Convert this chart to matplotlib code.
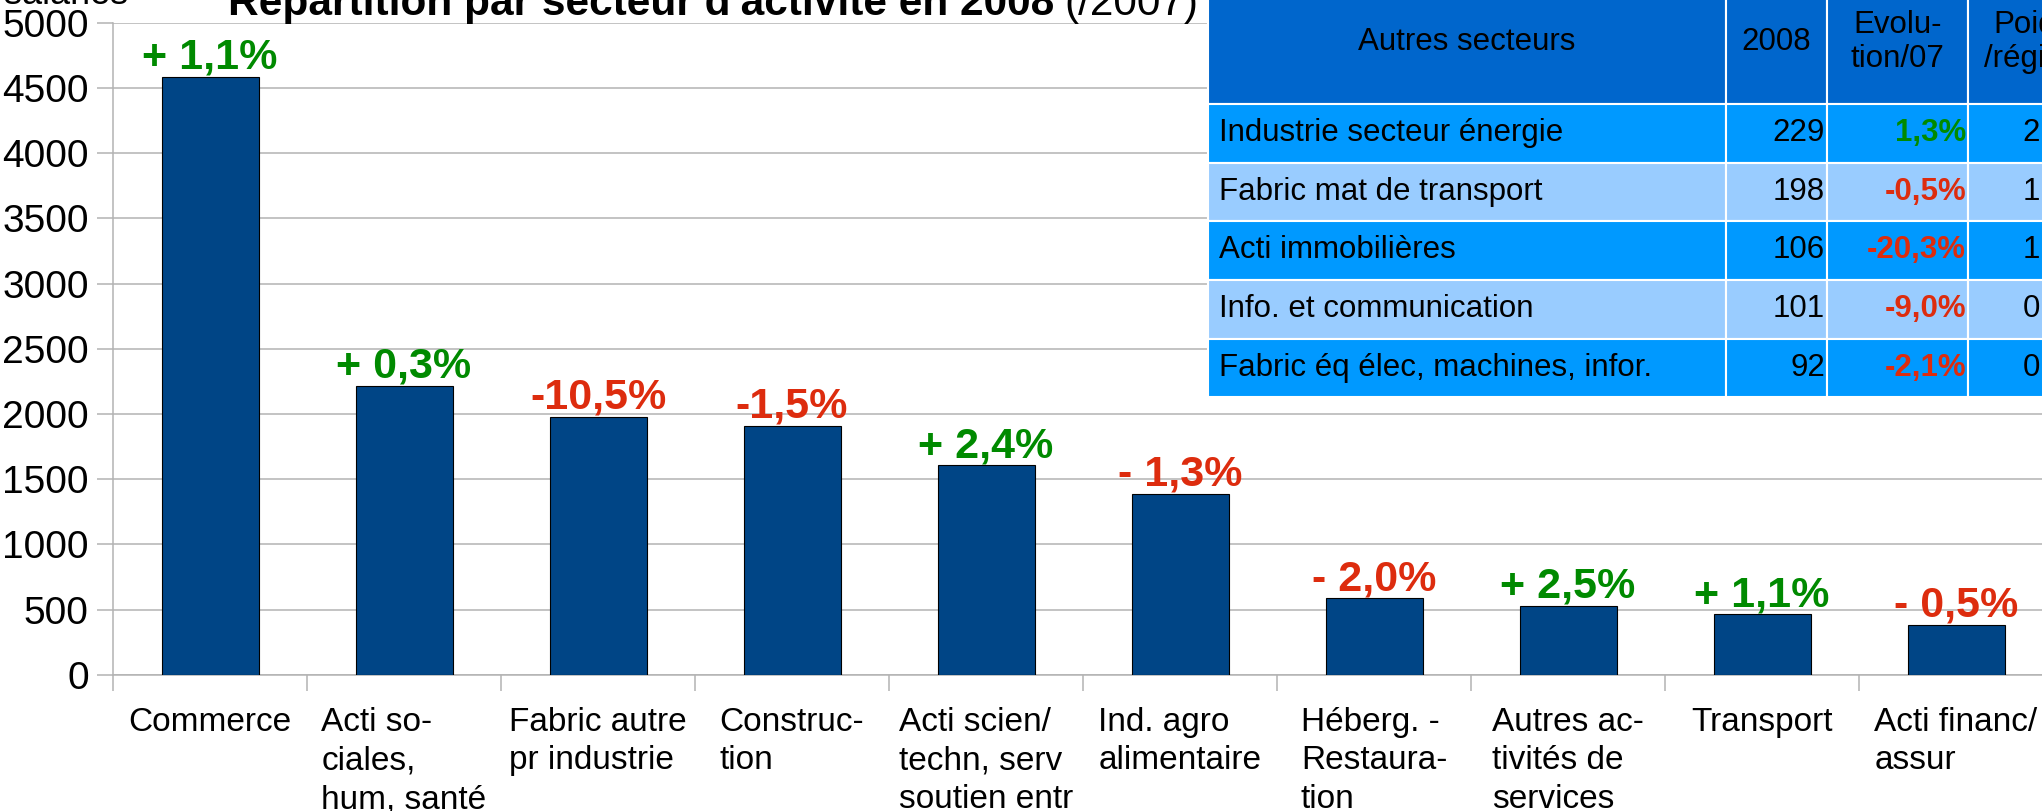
import numpy as np
import matplotlib.pyplot as plt

plt.rcParams['font.family'] = ['Liberation Sans', 'DejaVu Sans']

# données du graphique
secteurs = ['Commerce', 'Acti so-\nciales,\nhum, santé', 'Fabric autre\npr industrie',
            'Construc-\ntion', 'Acti scien/\ntechn, serv\nsoutien entr',
            'Ind. agro\nalimentaire', 'Héberg. -\nRestaura-\ntion',
            'Autres ac-\ntivités de\nservices', 'Transport', 'Acti financ/\nassur']
salaries = [4585, 2215, 1975, 1910, 1605, 1385, 585, 525, 462, 382]
evolution = ['+ 1,1%', '+ 0,3%', '-10,5%', '-1,5%', '+ 2,4%', '- 1,3%',
             '- 2,0%', '+ 2,5%', '+ 1,1%', '- 0,5%']

# tableau "autres secteurs"
table_header = ['Autres secteurs', '2008', 'Evolu-\ntion/07', 'Poids\n/région']
autres_secteurs = ['Industrie secteur énergie', 'Fabric mat de transport',
                   'Acti immobilières', 'Info. et communication',
                   'Fabric éq élec, machines, infor.']
autres_2008 = ['229', '198', '106', '101', '92']
autres_evol = ['1,3%', '-0,5%', '-20,3%', '-9,0%', '-2,1%']
autres_poids = ['2,3%', '1,9%', '1,0%', '0,9%', '0,8%']

green = '#008a00'
red = '#dd2c0e'

W, H = 2042, 811
fig = plt.figure(figsize=(W / 100, H / 100), dpi=100)
ax = fig.add_axes([113 / W, 1 - 674.7 / H, (2053 - 113) / W, (674.7 - 22.7) / H])

x = np.arange(len(secteurs))
ax.bar(x, salaries, width=0.5, color='#004586', edgecolor='black', linewidth=0.8, zorder=3)
ax.set_xlim(-0.5, len(secteurs) - 0.5)
ax.set_ylim(0, 5000)
ax.set_yticks(np.arange(0, 5001, 500))
ax.yaxis.grid(True, color='#b3b3b3', linewidth=1.1)
ax.set_axisbelow(True)
for s in ['top', 'right']:
    ax.spines[s].set_visible(False)
ax.spines['left'].set_color('#b3b3b3')
ax.spines['bottom'].set_color('#b3b3b3')
ax.spines['left'].set_linewidth(1.1)
ax.spines['bottom'].set_linewidth(1.1)
ax.tick_params(axis='y', length=11.5, width=1.1, color='#b3b3b3', labelsize=28, pad=6)
ax.set_xticks(x, secteurs, fontsize=24, ha='center', multialignment='left', linespacing=1.32)
ax.tick_params(axis='x', which='major', length=0, pad=23)
ax.set_xticks(np.arange(-0.5, len(secteurs)), minor=True)
ax.tick_params(axis='x', which='minor', length=11.5, width=1.1, color='#b3b3b3')

for xi, v, e in zip(x, salaries, evolution):
    ax.annotate(e, (xi, v), xytext=(0, 6), textcoords='offset points', ha='center',
                va='baseline', fontsize=31, fontweight='bold',
                color=green if e.startswith('+') else red, zorder=4)

# titre (coupé en haut dans l'original)
t1 = fig.text(228 / W, 1 - 15 / H, "Répartition par secteur d'activité en 2008",
              fontsize=30.5, fontweight='bold', va='baseline')
fig.canvas.draw()
bb = t1.get_window_extent()
fig.text((bb.x1 + 10) / W, 1 - 15 / H, '(/2007)', fontsize=30.5, va='baseline')
fig.text(128 / W, 1 - 4 / H, 'salariés', fontsize=26, ha='right', va='baseline')

# tableau en haut à droite
col_w = np.array([518, 101, 141, 128], dtype=float)
row_h = np.array([124, 59, 58, 59, 59, 58], dtype=float)
tax = fig.add_axes([1208 / W, 1 - 397 / H, col_w.sum() / W, row_h.sum() / H])
tax.axis('off')
cells = [[n, v, e, p] for n, v, e, p in zip(autres_secteurs, autres_2008, autres_evol, autres_poids)]
tbl = tax.table(cellText=cells, colLabels=table_header, colWidths=list(col_w / col_w.sum()),
                bbox=[0, 0, 1, 1], cellLoc='center')
tbl.auto_set_font_size(False)
tbl.set_fontsize(22.5)
for (r, c), cell in tbl.get_celld().items():
    cell.set_height(row_h[r] / row_h.sum())
    cell.set_edgecolor('white')
    cell.set_linewidth(1.5)
    txt = cell.get_text()
    if r == 0:
        cell.set_facecolor('#0066cc')
        txt.set_linespacing(1.15)
        continue
    cell.set_facecolor('#0099ff' if r % 2 == 1 else '#99ccff')
    if c == 0:
        txt.set_ha('left')
        cell.PAD = 11 / col_w[0]
    else:
        txt.set_ha('right')
        cell.PAD = 2 / col_w[c]
    if c == 2:
        txt.set_fontweight('bold')
        txt.set_color(red if txt.get_text().startswith('-') else green)

fig.savefig('out.png', dpi=100)
